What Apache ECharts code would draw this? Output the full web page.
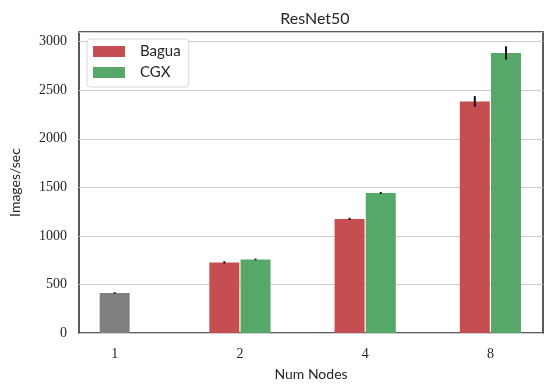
<!DOCTYPE html>
<html>
<head>
<meta charset="utf-8">
<script src="https://cdn.jsdelivr.net/npm/echarts@6/dist/echarts.min.js"></script>
<style>
  html, body { margin: 0; padding: 0; background: #fff; }
  #chart { width: 553px; height: 392px; }
</style>
</head>
<body>
<div id="chart"></div>
<script>
// categories on the x axis (number of nodes)
var nodes = ["1", "2", "4", "8"];
// single-node baseline (gray bar), only at 1 node
var baseline = [412, null, null, null];
var baselineErr = [8, 0, 0, 0];
// throughput, images/sec
var bagua = [null, 727, 1175, 2385];
var baguaErr = [0, 12, 12, 55];
var cgx = [null, 758, 1442, 2884];
var cgxErr = [0, 8, 10, 68];
var yTicks = [0, 500, 1000, 1500, 2000, 2500, 3000];

var tickFont = "Liberation Serif";
var textFont = "Lato";

function pairs(vals) {
  var out = [];
  vals.forEach(function (v, i) { if (v != null) out.push([i, v]); });
  return out;
}
function errPairs(vals, errs) {
  var out = [];
  vals.forEach(function (v, i) { if (v != null) out.push([i, v, errs[i]]); });
  return out;
}
function errRender(shift) {
  return function (params, api) {
    var x = api.value(0), y = api.value(1), e = api.value(2);
    var hi = api.coord([x, y + e]);
    var lo = api.coord([x, y - e]);
    return {
      type: "line",
      shape: { x1: hi[0] + shift, y1: hi[1], x2: lo[0] + shift, y2: lo[1] },
      style: { stroke: "#111", lineWidth: 2 }
    };
  };
}

var xAxisBase = {
  type: "value",
  min: -0.285,
  max: 3.42,
  splitLine: { show: false },
  axisTick: { show: false },
  axisLine: { show: false }
};

var chart = echarts.init(document.getElementById("chart"));
chart.setOption({
  animation: false,
  title: {
    text: "ResNet50",
    left: 310,
    top: 6,
    textAlign: "center",
    textStyle: { fontFamily: textFont, fontWeight: "normal", fontSize: 16, color: "#262626" }
  },
  legend: {
    data: ["Bagua", "CGX"],
    orient: "vertical",
    left: 87,
    top: 39,
    icon: "rect",
    itemWidth: 32,
    itemHeight: 11,
    itemGap: 6,
    padding: [5, 8, 7, 6],
    borderColor: "#d9d9d9",
    borderWidth: 1,
    borderRadius: 3,
    backgroundColor: "#fff",
    textStyle: { fontFamily: textFont, fontSize: 15, color: "#262626", padding: [0, 0, 0, 10] }
  },
  grid: {
    left: 77, right: 10, top: 32, bottom: 59,
    show: true, borderColor: "#262626", borderWidth: 1.5, backgroundColor: "transparent"
  },
  xAxis: [
    Object.assign({}, xAxisBase, {
      name: "Num Nodes",
      nameLocation: "middle",
      nameGap: 34,
      nameTextStyle: { fontFamily: textFont, fontSize: 14, color: "#262626" },
      axisLabel: {
        customValues: [0, 1, 2, 3],
        formatter: function (v) { return nodes[Math.round(v)]; },
        fontFamily: tickFont, fontSize: 14, color: "#262626", margin: 14
      }
    }),
    Object.assign({}, xAxisBase, { show: false })
  ],
  yAxis: {
    type: "value",
    min: 0,
    max: 3100,
    interval: 500,
    name: "Images/sec",
    nameLocation: "middle",
    nameGap: 57,
    nameTextStyle: { fontFamily: textFont, fontSize: 14, color: "#262626" },
    axisLine: { show: false },
    axisTick: { show: false },
    axisLabel: {
      showMaxLabel: false,
      formatter: function (v) { return yTicks.indexOf(v) >= 0 ? String(v) : ""; },
      fontFamily: tickFont, fontSize: 14, color: "#262626", margin: 12
    },
    splitLine: { lineStyle: { color: "#cccccc", width: 1 } }
  },
  series: [
    {
      name: "Bagua", type: "bar", xAxisIndex: 0, barWidth: 30, barGap: "4%",
      itemStyle: { color: "#C44E52" }, data: pairs(bagua)
    },
    {
      name: "CGX", type: "bar", xAxisIndex: 0, barWidth: 30, barGap: "4%",
      itemStyle: { color: "#55A868" }, data: pairs(cgx)
    },
    {
      name: "base", type: "bar", xAxisIndex: 1, barWidth: 30,
      itemStyle: { color: "#808080" }, data: pairs(baseline)
    },
    { type: "custom", xAxisIndex: 0, z: 5, renderItem: errRender(-15.6), data: errPairs(bagua, baguaErr) },
    { type: "custom", xAxisIndex: 0, z: 5, renderItem: errRender(15.6), data: errPairs(cgx, cgxErr) },
    { type: "custom", xAxisIndex: 0, z: 5, renderItem: errRender(0), data: errPairs(baseline, baselineErr) }
  ]
});
</script>
</body>
</html>
